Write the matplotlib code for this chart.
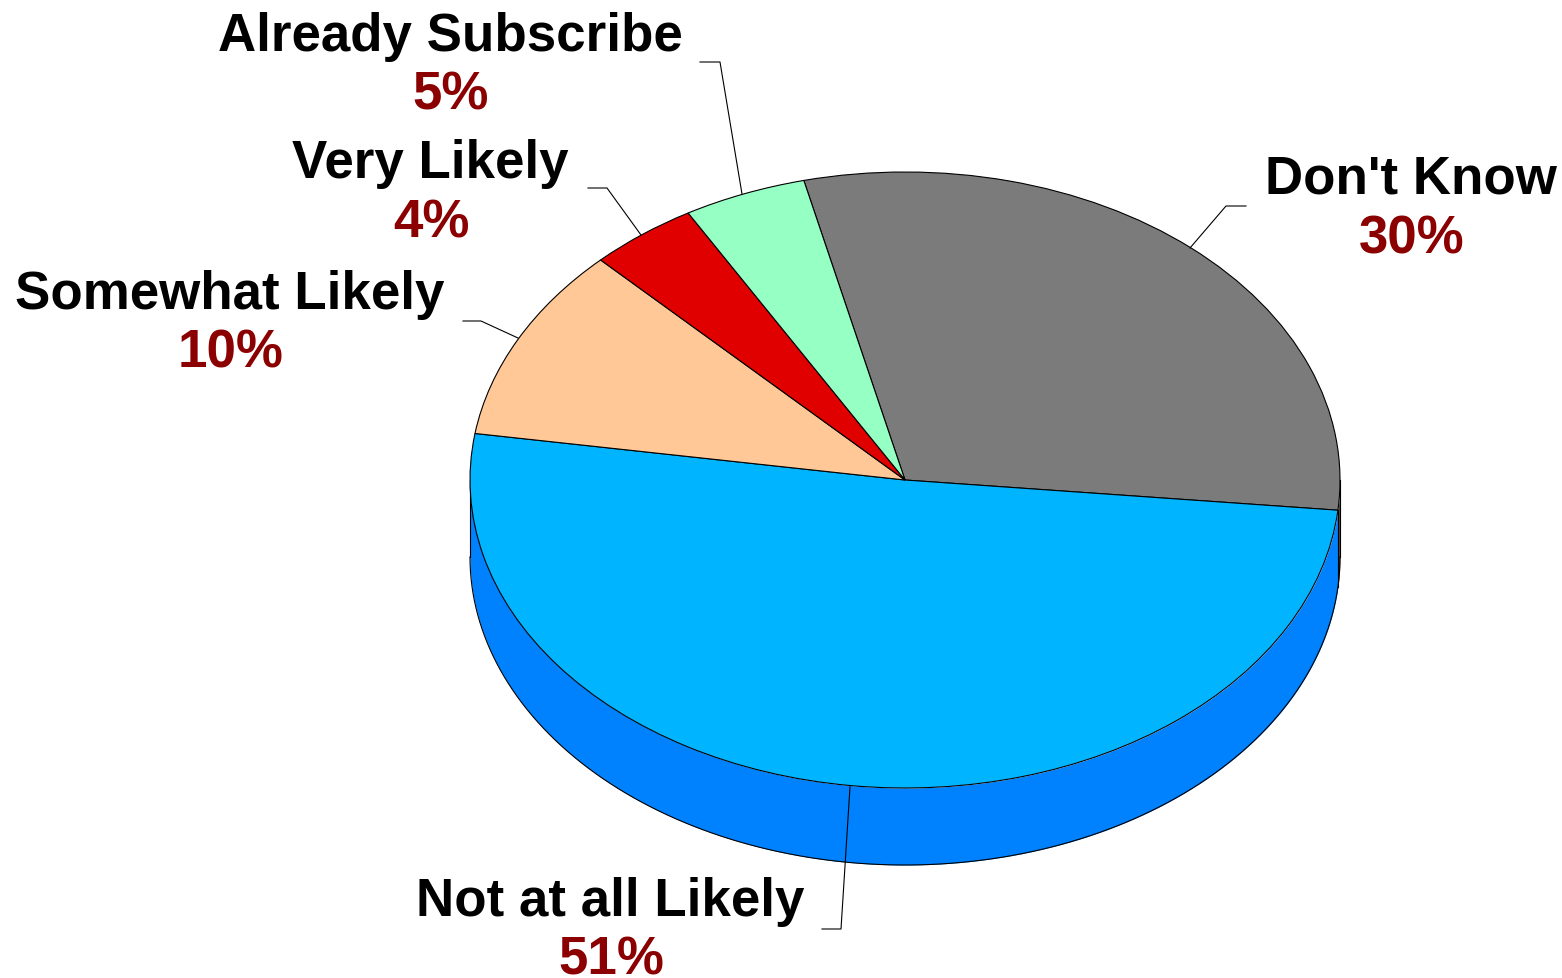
import matplotlib
matplotlib.use('Agg')
import matplotlib.pyplot as plt
import numpy as np

labels = ["Don't Know", 'Not at all Likely', 'Somewhat Likely', 'Very Likely', 'Already Subscribe']
values = [30.3, 50.85, 10.25, 4.03, 4.57]
percents = ['30%', '51%', '10%', '4%', '5%']
colours = ['#7b7b7b', '#00b4ff', '#ffc896', '#e00000', '#96ffc3']
side_colours = ['#4c4c4c', '#0082ff', '#ffc896', '#e00000', '#96ffc3']

# picture geometry, in pixels
W, H = 1562, 979
cx, cy = 905, 481
rx, ry = 435, 308
depth = 77 / ry
start = 103.45

# where the text goes: centre x, baseline of name, baseline of percent
label_pos = [(1411, 194, 253), (610, 916, 975), (230, 309, 368), (430, 178, 238), (450, 51, 110)]
# leader lines in pixels
leaders = [
    [(1190, 249), (1226, 207), (1246, 207)],
    [(850, 788), (841, 930), (822, 930)],
    [(518, 339), (481, 322), (463, 322)],
    [(641, 236), (607, 189), (588, 189)],
    [(742, 195), (720, 63), (700, 63)],
]


def px(x, y):
    return (x - cx) / rx, (cy - y) / ry


plt.rcParams['font.family'] = ['Liberation Sans', 'DejaVu Sans']
fig = plt.figure(figsize=(W / 100, H / 100), dpi=100)
ax = fig.add_axes([0, 0, 1, 1])

# side wall of the disc, only the lower half of the ellipse shows
a = start
for v, c in zip(values, side_colours):
    b = a - v * 3.6
    t = np.radians(np.linspace(a, b, 200))
    t = t[np.sin(t) <= 0.0]
    if len(t) > 0:
        xs = np.cos(t)
        ys = np.sin(t)
        ax.fill_between(xs, ys, ys - depth, color=c, lw=0, zorder=1)
    a = b

# outline of the wall
t = np.radians(np.linspace(180, 360, 400))
ax.plot(np.cos(t), np.sin(t) - depth, color='black', lw=0.8, zorder=2)
ax.plot([-1, -1], [0, -depth], color='black', lw=0.8, zorder=2)
ax.plot([1, 1], [0, -depth], color='black', lw=0.8, zorder=2)
edge = np.radians(start - values[0] * 3.6)
ax.plot([np.cos(edge)] * 2, [np.sin(edge), np.sin(edge) - depth], color='black', lw=0.8, zorder=2)

wedges, _ = ax.pie(values, colors=colours, startangle=start, counterclock=False, radius=1,
                   wedgeprops={'edgecolor': 'black', 'linewidth': 0.8, 'zorder': 3})

for line in leaders:
    pts = np.array([px(*p) for p in line])
    ax.plot(pts[:, 0], pts[:, 1], color='black', lw=0.8, zorder=4)

for name, pct, (x, y1, y2) in zip(labels, percents, label_pos):
    ax.text(*px(x, y1), name, ha='center', va='baseline', fontsize=38.1, fontweight='bold', color='black')
    ax.text(*px(x + 1, y2), pct, ha='center', va='baseline', fontsize=38.1, fontweight='bold', color='#8b0000')

ax.set_aspect('auto')
ax.set_xlim(-cx / rx, (W - cx) / rx)
ax.set_ylim((cy - H) / ry, cy / ry)
ax.axis('off')

fig.savefig('out.png', dpi=100)
